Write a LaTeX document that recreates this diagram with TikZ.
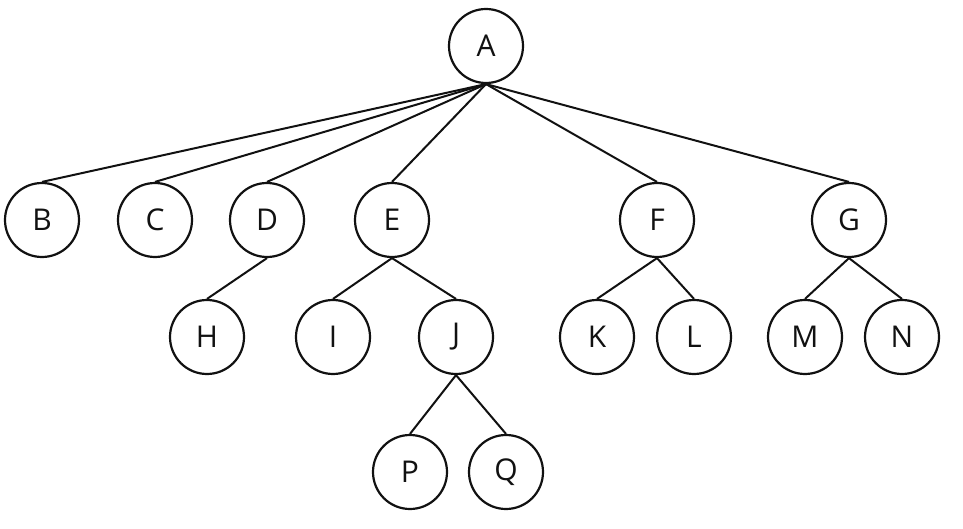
\documentclass[tikz,border=0pt]{standalone}
\usepackage{fontspec}
\setmainfont{Open Sans}
\usepackage{tikz}
\usepackage{xcolor}
\usetikzlibrary{positioning}
\definecolor{ink}{HTML}{111111}
\tikzset{
  treenode/.style={
    draw=ink, fill=white, line width=2.2pt, circle,
    inner sep=0pt, minimum size=74pt,
    font=\fontsize{30}{30}\selectfont, text=ink
  },
  branch/.style={draw=ink, line width=2pt}
}

\begin{document}
\begin{tikzpicture}[x=1pt,y=-1pt]
  \useasboundingbox (0,0) rectangle (963,529);
  % root and first level
  \node[treenode] (A) at (486,46) {A};
  \node[treenode] (B) at (42,220) {B};
  \node[treenode] (C) at (155,220) {C};
  \node[treenode] (D) at (267,220) {D};
  \node[treenode] (E) at (392,220) {E};
  \node[treenode] (F) at (657,220) {F};
  \node[treenode] (G) at (849,220) {G};
  % second level
  \node[treenode] (H) at (207,337) {H};
  \node[treenode] (I) at (333,337) {I};
  \node[treenode] (J) at (456,337) {J};
  \node[treenode] (K) at (597,337) {K};
  \node[treenode] (L) at (694,337) {L};
  \node[treenode] (M) at (805,337) {M};
  \node[treenode] (N) at (902,337) {N};
  % third level
  \node[treenode] (P) at (410,472) {P};
  \node[treenode] (Q) at (506,472) {Q};
  % branches
  \foreach \kid in {B,C,D,E,F,G}
    \draw[branch] (A.south) -- (\kid.north);
  \draw[branch] (D.south) -- (H.north);
  \draw[branch] (E.south) -- (I.north);
  \draw[branch] (E.south) -- (J.north);
  \draw[branch] (F.south) -- (K.north);
  \draw[branch] (F.south) -- (L.north);
  \draw[branch] (G.south) -- (M.north);
  \draw[branch] (G.south) -- (N.north);
  \draw[branch] (J.south) -- (P.north);
  \draw[branch] (J.south) -- (Q.north);
\end{tikzpicture}
\end{document}
